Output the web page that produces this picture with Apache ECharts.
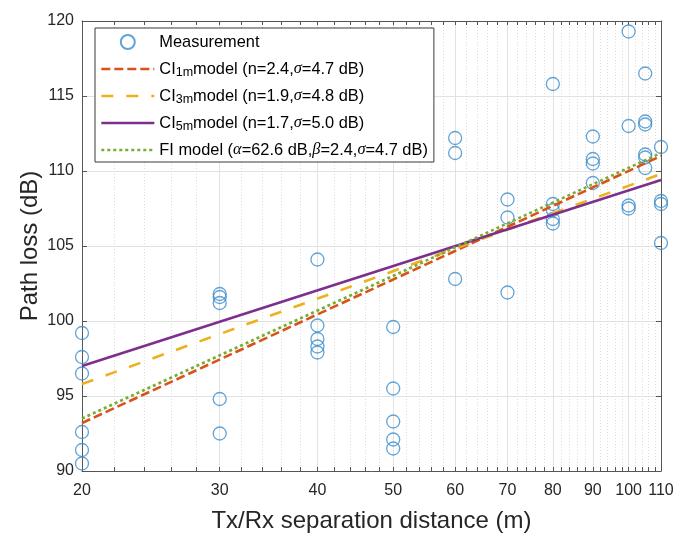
<!DOCTYPE html>
<html><head><meta charset="utf-8">
<script src="https://cdn.jsdelivr.net/npm/echarts@6/dist/echarts.min.js"></script>
<style>html,body{margin:0;padding:0;background:#fff}#c{width:677px;height:538px}</style>
</head><body><div id="c"></div>
<script>
// Measurement points (distance in m, path loss in dB)
const measDistance = [
  20,20,20,20,20,20,
  30,30,30,30,30,
  40,40,40,40,40,
  50,50,50,50,50,
  60,60,60,
  70,70,70,
  80,80,80,80,80,
  90,90,90,90,
  100,100,100,100,
  105,105,105,105,105,105,
  110,110,110,110
];
const measLoss = [
  99.2,97.6,96.5,92.6,91.4,90.5,
  101.8,101.6,101.2,94.8,92.5,
  104.1,99.7,98.8,98.3,97.9,
  99.6,95.5,93.3,92.1,91.5,
  112.2,111.2,102.8,
  108.1,106.9,101.9,
  115.8,107.8,107.4,106.8,106.5,
  112.3,110.8,110.5,109.2,
  119.3,113.0,107.7,107.5,
  116.5,113.3,113.1,111.1,110.9,110.2,
  111.6,108.0,107.8,105.2
];
// Model lines (end points)
const modelDistance = [20, 110];
const ci1mLoss = [93.2, 111.0];
const ci3mLoss = [95.8, 109.8];
const ci5mLoss = [97.0, 109.4];
const fiLoss   = [93.5, 111.2];

// Ticks
const xTickLabels = [20,30,40,50,60,70,80,90,100,110];
const xMinorTicks = [22,24,26,28,32,34,36,38,42,44,46,48,52,54,56,58,62,64,66,68,72,74,76,78,82,84,86,88,92,94,96,98,102,104,106,108];
const yTickLabels = [90,95,100,105,110,115,120];

// Texts
const seriesNames = ['Measurement','CI1m','CI3m','CI5m','FI'];
const legendTexts = [
  'Measurement',
  'CI{sub|1m}model (n=2.4,{g|σ}=4.7 dB)',
  'CI{sub|3m}model (n=1.9,{g|σ}=4.8 dB)',
  'CI{sub|5m}model (n=1.7,{g|σ}=5.0 dB)',
  'FI model ({g|α}=62.6 dB,{g|β}=2.4,{g|σ}=4.7 dB)'
];
const xTitle = 'Tx/Rx separation distance (m)';
const yTitle = 'Path loss (dB)';

const L = v => Math.log10(v);
const xMin = L(xTickLabels[0]), xMax = L(xTickLabels[xTickLabels.length-1]);
const allXTicks = xTickLabels.concat(xMinorTicks).sort((a,b)=>a-b).map(L);
const majorX = xTickLabels.map(L);
const minorX = xMinorTicks.map(L);

const axisColor = '#555555';
const textColor = '#262626';
const font = 'Liberation Sans, Arial, sans-serif';

const lineData = arr => modelDistance.map((d,i)=>[L(d), arr[i]]);

const chart = echarts.init(document.getElementById('c'));
chart.setOption({
  animation: false,
  backgroundColor: '#fff',
  grid: {left: 82, right: 16, top: 21, bottom: 66, containLabel: false},
  legend: {
    orient: 'vertical', left: 95, top: 28,
    padding: [4, 6, 2, 5],
    itemWidth: 53, itemHeight: 14, itemGap: 7,
    borderColor: '#3a3a3a', borderWidth: 1, backgroundColor: '#fff',
    lineStyle: {width: 2.6},
    data: seriesNames.map((n, i) => i === 0 ? {name: n} : {name: n, itemStyle: {opacity: 0}}),
    formatter: name => legendTexts[seriesNames.indexOf(name)],
    textStyle: {
      fontSize: 16.4, color: '#000', fontFamily: font, lineHeight: 20,
      rich: {
        sub: {fontSize: 12.5, fontFamily: font, color: '#000', lineHeight: 11, verticalAlign: 'bottom'},
        g: {fontSize: 16.4, fontFamily: 'Liberation Serif, serif', fontStyle: 'italic', color: '#000', lineHeight: 20}
      }
    }
  },
  xAxis: [
    {
      type: 'value', position: 'bottom', min: xMin, max: xMax,
      axisLine: {show: true, onZero: false, lineStyle: {color: axisColor, width: 1}},
      axisTick: {show: true, inside: true, length: 4, customValues: allXTicks, lineStyle: {color: axisColor}},
      axisLabel: {customValues: majorX, formatter: v => String(Math.round(Math.pow(10, v))),
        fontSize: 16, color: textColor, fontFamily: font, margin: 12},
      splitLine: {show: false},
      name: xTitle, nameLocation: 'middle', nameGap: 38,
      nameTextStyle: {fontSize: 24, color: textColor, fontFamily: font}
    },
    {
      type: 'value', position: 'top', min: xMin, max: xMax,
      axisLine: {show: true, onZero: false, lineStyle: {color: axisColor, width: 1}},
      axisTick: {show: true, inside: true, length: 4, customValues: allXTicks, lineStyle: {color: axisColor}},
      axisLabel: {show: false}, splitLine: {show: false}
    },
    {
      type: 'value', position: 'bottom', min: xMin, max: xMax,
      axisLine: {show: false}, axisTick: {show: false, customValues: majorX}, axisLabel: {show: false},
      splitLine: {show: true, lineStyle: {color: '#e2e2e2', width: 1, type: 'solid'}}
    },
    {
      type: 'value', position: 'bottom', min: xMin, max: xMax,
      axisLine: {show: false}, axisTick: {show: false, customValues: minorX}, axisLabel: {show: false},
      splitLine: {show: true, lineStyle: {color: '#dcdcdc', width: 1, type: [1, 2]}}
    }
  ],
  yAxis: [
    {
      type: 'value', position: 'left', min: yTickLabels[0], max: yTickLabels[yTickLabels.length-1], interval: 5,
      axisLine: {show: true, onZero: false, lineStyle: {color: axisColor, width: 1}},
      axisTick: {show: true, inside: true, length: 5, lineStyle: {color: axisColor}},
      axisLabel: {fontSize: 16, color: textColor, fontFamily: font, margin: 8},
      splitLine: {show: true, lineStyle: {color: '#e2e2e2', width: 1}},
      name: yTitle, nameLocation: 'middle', nameGap: 40, nameMoveOverlap: false,
      nameTextStyle: {fontSize: 24, color: textColor, fontFamily: font}
    },
    {
      type: 'value', position: 'right', min: yTickLabels[0], max: yTickLabels[yTickLabels.length-1], interval: 5,
      axisLine: {show: true, onZero: false, lineStyle: {color: axisColor, width: 1}},
      axisTick: {show: true, inside: true, length: 5, lineStyle: {color: axisColor}},
      axisLabel: {show: false}, splitLine: {show: false}
    }
  ],
  series: [
    {
      name: seriesNames[0], type: 'scatter', xAxisIndex: 0, yAxisIndex: 0,
      symbol: 'circle', symbolSize: 13,
      itemStyle: {color: 'rgba(0,0,0,0)', borderColor: '#3a8ccc', borderWidth: 1.3},
      data: measDistance.map((d,i)=>[L(d), measLoss[i]]), z: 3
    },
    {
      name: seriesNames[1], type: 'line', symbol: 'none', xAxisIndex: 0, yAxisIndex: 0,
      lineStyle: {color: '#D95319', width: 2.6, type: [9, 4]}, itemStyle: {color: '#D95319'},
      data: lineData(ci1mLoss), z: 4
    },
    {
      name: seriesNames[2], type: 'line', symbol: 'none', xAxisIndex: 0, yAxisIndex: 0,
      lineStyle: {color: '#EDB120', width: 2.6, type: [12, 13]}, itemStyle: {color: '#EDB120'},
      data: lineData(ci3mLoss), z: 5
    },
    {
      name: seriesNames[3], type: 'line', symbol: 'none', xAxisIndex: 0, yAxisIndex: 0,
      lineStyle: {color: '#7E2F8E', width: 2.6, type: 'solid'}, itemStyle: {color: '#7E2F8E'},
      data: lineData(ci5mLoss), z: 6
    },
    {
      name: seriesNames[4], type: 'line', symbol: 'none', xAxisIndex: 0, yAxisIndex: 0,
      lineStyle: {color: '#77AC30', width: 2.6, type: [3, 3]}, itemStyle: {color: '#77AC30'},
      data: lineData(fiLoss), z: 7
    }
  ]
});
</script>
</body></html>
